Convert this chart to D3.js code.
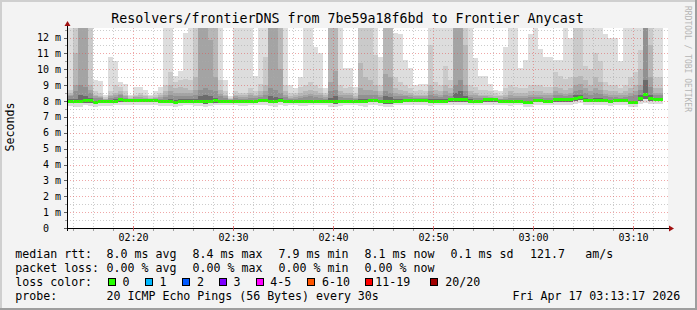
<!DOCTYPE html>
<html><head><meta charset="utf-8">
<script src="https://cdn.jsdelivr.net/npm/d3@7"></script>
<style>
body{margin:0;background:#f3f3f3}
svg{display:block}
text{font-family:"DejaVu Sans Mono",monospace;fill:#000}
</style>
</head><body>
<svg id="chart" width="697" height="310"></svg>
<script>
// ---------------- DATA ----------------
const title = "Resolvers/frontierDNS from 7be59a18f6bd to Frontier Anycast";
const firstColumn = "2026-04-17 02:13:00";   // 30 s steps
const stepSeconds = 30;
const axisStart = "2026-04-17 02:13:24";
const axisEnd = "2026-04-17 03:13:24";

// upper smoke (sorted pings, ms), 13 = off the top of the chart
const p20 = [13,13,13,13,13,13,9.3,9.25,8.4,10.75,10.5,
 9.2,9.1,8.4,8.9,8.9,8.7,8.4,8.6,8.9,13,
 13,9.55,9.86,12.3,13,13,13,13,13,13,
 13,9.3,8.3,13,13,13,13,9.6,13,13,
 13,13,13,13,9.0,8.8,9.5,13,13,11.4,
 11.0,8.8,13,13,13,10.1,10.1,8.9,13,13,
 13,13,10.8,13,13,12.3,12.2,10.6,10.1,9.0,
 9.1,9.1,13,13,13,13,13,13,13,13,
 13,10.7,9.6,9.6,9.1,8.7,8.6,11.4,13,13,
 10.1,10.6,12.2,13,11.3,10.8,10.8,10.6,10.6,13,
 12.0,13,13,13,13,13,13,12.2,12.0,12.0,
 10.5,13,13,13,13,13,13,13,13];
const p19 = [8.7,8.7,13,13,13,13,8.6,8.5,8.25,8.6,9.0,
 8.9,8.6,8.3,8.4,8.5,8.4,8.3,8.35,8.5,9.0,
 9.8,9.2,9.3,9.4,9.3,13,13,13,13,13,
 9.3,8.6,8.2,8.6,8.5,8.5,8.8,8.6,9.1,10.8,
 13,13,13,9.0,8.5,8.5,8.9,9.0,9.2,9.0,
 8.8,8.5,13,13,9.0,8.8,8.9,8.5,13,13,
 13,10.9,9.0,13,13,9.5,9.2,9.0,8.8,8.6,
 8.7,8.6,11.5,9.2,9.0,10.2,9.3,13,13,13,
 9.0,8.9,8.7,8.7,8.6,8.5,8.4,8.8,9.0,8.9,
 8.8,8.8,9.0,9.0,9.0,8.9,8.9,9.8,9.6,9.4,
 9.5,13,13,10.2,10.0,11.0,10.5,9.2,9.0,9.0,
 8.8,9.0,9.5,9.8,11.2,13,13,9.5,9.5];
const p18 = [8.5,8.5,11.0,13,13,9.0,8.4,8.3,8.15,8.4,8.5,
 8.6,8.4,8.2,8.3,8.35,8.3,8.2,8.25,8.35,8.6,
 9.0,8.8,8.9,8.8,8.7,9.5,13,13,13,13,
 8.7,8.4,8.15,8.4,8.35,8.35,8.5,8.4,8.6,9.0,
 13,13,13,8.6,8.3,8.35,8.5,8.6,8.7,8.6,
 8.5,8.35,13,13,8.6,8.5,8.5,8.3,10.4,9.5,
 9.3,9.0,8.6,13,13,8.8,8.7,8.6,8.5,8.4,
 8.4,8.4,9.0,8.7,8.6,9.0,8.8,13,13,11.5,
 8.6,8.5,8.4,8.4,8.35,8.3,8.3,8.4,8.6,8.5,
 8.5,8.5,8.6,8.6,8.6,8.5,8.5,8.9,8.8,8.7,
 8.8,9.5,9.6,9.3,9.0,9.5,9.2,8.7,8.6,8.6,
 8.5,8.6,8.8,9.0,10.0,13,11.5,8.8,8.8];
const p17 = [8.4,8.4,9.0,13,13,8.7,8.3,8.25,8.1,8.3,8.35,
 8.45,8.3,8.15,8.25,8.25,8.2,8.15,8.2,8.25,8.4,
 8.6,8.5,8.5,8.5,8.5,8.7,13,13,11.85,9.5,
 8.45,8.3,8.1,8.3,8.25,8.25,8.35,8.3,8.4,8.6,
 13,13,10.0,8.4,8.2,8.25,8.3,8.4,8.45,8.4,
 8.35,8.25,9.2,9.9,8.4,8.35,8.35,8.2,8.8,8.7,
 8.7,8.6,8.4,9.7,9.5,8.5,8.45,8.4,8.35,8.3,
 8.3,8.3,8.6,8.45,8.4,8.6,8.5,13,13,9.0,
 8.4,8.35,8.3,8.3,8.25,8.2,8.15,8.25,8.35,8.3,
 8.3,8.3,8.4,8.4,8.4,8.35,8.35,8.6,8.5,8.45,
 8.5,9.0,9.1,8.8,8.6,8.8,8.7,8.45,8.4,8.4,
 8.35,8.4,8.5,8.6,9.0,13,9.5,8.5,8.5];
const p16 = [8.3,8.3,8.6,9.0,8.9,8.5,8.2,8.2,8.05,8.2,8.25,
 8.35,8.2,8.1,8.15,8.15,8.15,8.1,8.12,8.15,8.25,
 8.35,8.3,8.3,8.3,8.3,8.4,8.7,8.8,8.7,8.6,
 8.3,8.2,8.05,8.2,8.15,8.15,8.2,8.2,8.25,8.35,
 8.8,8.7,8.5,8.25,8.12,8.15,8.2,8.25,8.3,8.25,
 8.2,8.15,8.6,8.7,8.25,8.2,8.2,8.1,8.4,8.35,
 8.4,8.35,8.25,8.6,8.5,8.3,8.3,8.3,8.25,8.2,
 8.2,8.2,8.35,8.3,8.25,8.35,8.3,9.0,9.3,8.6,
 8.25,8.2,8.2,8.2,8.15,8.12,8.1,8.15,8.2,8.2,
 8.2,8.2,8.25,8.25,8.25,8.2,8.2,8.4,8.35,8.3,
 8.35,8.6,8.7,8.5,8.4,8.5,8.45,8.3,8.25,8.25,
 8.2,8.25,8.3,8.35,8.7,13,8.9,8.35,8.35];
const p12 = [8.1,8.1,8.15,8.35,8.3,8.2,8.0,8.05,8.05,8.05,8.1,
 8.2,8.12,8.1,8.1,8.1,8.1,8.08,8.08,8.05,8.05,
 8.1,8.05,8.1,8.1,8.1,8.15,8.3,8.35,8.3,8.2,
 8.05,8.05,8.02,8.05,8.05,8.05,8.08,8.05,8.1,8.15,
 8.3,8.25,8.2,8.05,8.02,8.05,8.05,8.05,8.08,8.05,
 8.05,8.02,8.2,8.3,8.05,8.05,8.05,8.02,8.15,8.1,
 8.15,8.15,8.05,8.3,8.25,8.1,8.1,8.12,8.12,8.12,
 8.12,8.12,8.15,8.1,8.1,8.15,8.2,8.5,8.6,8.3,
 8.1,8.08,8.08,8.15,8.15,8.15,8.05,8.05,8.05,8.05,
 8.05,8.02,8.02,8.1,8.1,8.05,8.05,8.2,8.15,8.15,
 8.15,8.35,8.4,8.2,8.15,8.2,8.2,8.15,8.05,8.1,
 8.1,8.1,8.0,8.0,8.35,9.3,8.4,8.2,8.2];
// median rtt (ms)
const median = [7.97,7.97,7.97,7.97,8.06,8.06,7.91,7.95,7.97,7.97,7.97,
 8.1,8.05,8.04,8.04,8.04,8.04,8.04,8.04,7.97,7.97,
 7.97,7.93,8.0,8.0,8.0,8.0,8.0,8.0,8.0,8.04,
 7.97,7.97,7.97,7.97,7.97,7.97,7.97,7.97,8.04,8.04,
 7.97,7.97,8.06,7.97,7.97,7.97,7.97,7.97,7.97,7.97,
 7.97,7.97,7.97,7.97,7.97,7.97,7.97,7.97,7.97,7.97,
 8.04,8.04,7.95,7.95,7.95,8.0,8.0,8.05,8.05,8.05,
 8.05,8.05,8.0,8.0,8.0,8.0,8.1,8.1,8.1,8.1,
 8.0,8.0,8.0,8.07,8.07,8.07,7.97,7.97,7.97,7.97,
 7.97,7.93,7.93,8.04,8.04,7.97,7.97,8.07,8.07,8.07,
 8.07,8.15,8.2,8.06,8.06,8.06,8.06,8.06,7.97,8.04,
 8.04,8.04,7.9,7.9,8.15,8.4,8.15,8.1,8.1];
// lower smoke
const lo2 = [7.88,7.88,7.85,7.85,7.9,7.9,7.82,7.85,7.88,7.88,7.88,
 7.95,7.92,7.92,7.92,7.92,7.92,7.92,7.92,7.88,7.85,
 7.85,7.82,7.88,7.88,7.88,7.85,7.85,7.82,7.85,7.9,
 7.88,7.88,7.88,7.88,7.88,7.88,7.88,7.88,7.92,7.92,
 7.85,7.85,7.92,7.85,7.88,7.88,7.88,7.88,7.88,7.88,
 7.88,7.88,7.85,7.82,7.88,7.88,7.88,7.88,7.85,7.85,
 7.92,7.92,7.85,7.8,7.82,7.9,7.9,7.92,7.92,7.92,
 7.92,7.92,7.88,7.88,7.88,7.88,7.95,7.95,7.95,7.95,
 7.88,7.88,7.88,7.95,7.95,7.95,7.88,7.88,7.88,7.88,
 7.88,7.82,7.82,7.92,7.92,7.88,7.88,7.95,7.95,7.95,
 7.95,8.0,8.05,7.95,7.95,7.95,7.95,7.95,7.88,7.92,
 7.92,7.92,7.8,7.8,8.0,8.1,8.0,7.98,7.98];
const lo1 = [7.7,7.7,7.65,7.62,7.75,7.7,7.6,7.68,7.7,7.7,7.72,
 7.78,7.75,7.75,7.75,7.78,7.78,7.75,7.75,7.7,7.68,
 7.68,7.65,7.7,7.72,7.72,7.7,7.68,7.62,7.68,7.72,
 7.72,7.72,7.72,7.72,7.7,7.7,7.72,7.72,7.75,7.75,
 7.68,7.65,7.75,7.7,7.72,7.72,7.7,7.7,7.72,7.72,
 7.72,7.72,7.62,7.6,7.7,7.72,7.72,7.72,7.68,7.65,
 7.75,7.75,7.68,7.6,7.62,7.72,7.72,7.75,7.75,7.75,
 7.75,7.75,7.7,7.72,7.72,7.72,7.78,7.75,7.75,7.78,
 7.72,7.72,7.72,7.78,7.78,7.78,7.72,7.72,7.7,7.72,
 7.72,7.65,7.65,7.75,7.75,7.72,7.72,7.78,7.78,7.78,
 7.78,7.8,7.85,7.78,7.78,7.78,7.78,7.78,7.7,7.75,
 7.75,7.75,7.62,7.62,7.8,7.9,7.82,7.8,7.8];

const yTickValues = [0,1,2,3,4,5,6,7,8,9,10,11,12];
const yTickLabels = ["0  ","1 m","2 m","3 m","4 m","5 m","6 m","7 m","8 m","9 m","10 m","11 m","12 m"];
const xTickTimes = ["02:20","02:30","02:40","02:50","03:00","03:10"];

const legendRows = [
  {label:"median rtt:", items:["8.0 ms avg","8.4 ms max","7.9 ms min","8.1 ms now","0.1 ms sd","121.7","am/s"]},
  {label:"packet loss:", items:["0.00 % avg","0.00 % max","0.00 % min","0.00 % now"]},
  {label:"probe:", items:["20 ICMP Echo Pings (56 Bytes) every 30s","Fri Apr 17 03:13:17 2026"]}
];
const lossLabels = ["0","1","2","3","4-5","6-10","11-19","20/20"];
const lossColors = ["#26ff00","#00b8ff","#0059ff","#7e00ff","#ff00ff","#ff5500","#ff0000","#a10000"];
const smokeColors = ["#dddddd","#cacaca","#b7b7b7","#a4a4a4","#919191","#6b6b6b"];

// ---------------- LAYOUT ----------------
const W = 697, H = 310;
const plot = {left:67, right:667, top:28, bottom:228};
const svg = d3.select("#chart");
const parse = d3.timeParse("%Y-%m-%d %H:%M:%S");
const t0 = parse(firstColumn);
const times = median.map((_, i) => new Date(t0.getTime() + i*stepSeconds*1000));

const x = d3.scaleTime().domain([parse(axisStart), parse(axisEnd)]).range([plot.left, plot.right]);
const y = d3.scaleLinear().domain([0, 12.6]).range([plot.bottom, plot.top]);

// background + frame
svg.append("rect").attr("width",W).attr("height",H).attr("fill","#f3f3f3");
svg.append("rect").attr("x",0).attr("y",0).attr("width",W).attr("height",2).attr("fill","#cfcfcf");
svg.append("rect").attr("x",0).attr("y",0).attr("width",2).attr("height",H).attr("fill","#cfcfcf");
svg.append("rect").attr("x",0).attr("y",H-2).attr("width",W).attr("height",2).attr("fill","#9e9e9e");
svg.append("rect").attr("x",W-2).attr("y",0).attr("width",2).attr("height",H).attr("fill","#9e9e9e");

// canvas
svg.append("rect").attr("x",plot.left).attr("y",plot.top)
  .attr("width",plot.right-plot.left+1).attr("height",plot.bottom-plot.top).attr("fill","#ffffff");

svg.append("clipPath").attr("id","clip").append("rect")
  .attr("x",plot.left+1).attr("y",plot.top).attr("width",plot.right-plot.left).attr("height",plot.bottom-plot.top);

const g = svg.append("g").attr("clip-path","url(#clip)");
const layers = [
  {top:p20, bot:lo1}, {top:p19, bot:lo2}, {top:p18, bot:lo2},
  {top:p17, bot:lo2}, {top:p16, bot:lo2}, {top:p12, bot:lo2}
];
const colX = i => x(times[i]);
const colW = i => x(new Date(times[i].getTime()+stepSeconds*1000)) - x(times[i]);
layers.forEach((L, li) => {
  g.append("g").selectAll("rect").data(times).join("rect")
    .attr("x",(d,i)=>colX(i)).attr("width",(d,i)=>colW(i))
    .attr("y",(d,i)=>y(L.top[i])).attr("height",(d,i)=>Math.max(0,y(L.bot[i])-y(L.top[i])))
    .attr("fill",smokeColors[li]).attr("shape-rendering","crispEdges");
});

// grid
const grid = svg.append("g");
const minorY = d3.range(0, 12.51, 0.5).filter(v => v % 1 !== 0);
minorY.forEach(v => {
  const yy = Math.round(y(v)) + 0.5;
  grid.append("line").attr("x1",plot.left).attr("x2",plot.right+1).attr("y1",yy).attr("y2",yy)
    .attr("stroke","rgba(170,170,170,0.6)").attr("stroke-dasharray","1 2");
});
const minorX = d3.timeMinute.every(2).range(parse(axisStart), parse(axisEnd));
minorX.forEach(t => {
  if (t.getMinutes() % 10 === 0) return;
  const xx = Math.round(x(t)) + 0.5;
  grid.append("line").attr("x1",xx).attr("x2",xx).attr("y1",plot.top).attr("y2",plot.bottom)
    .attr("stroke","rgba(170,170,170,0.6)").attr("stroke-dasharray","1 2");
});
yTickValues.filter(v=>v>0).forEach(v => {
  const yy = Math.round(y(v)) + 0.5;
  grid.append("line").attr("x1",plot.left).attr("x2",plot.right+1).attr("y1",yy).attr("y2",yy)
    .attr("stroke","rgba(224,80,80,0.5)").attr("stroke-dasharray","1 2");
});
const majorX = xTickTimes.map(s => parse("2026-04-17 " + s + ":00"));
majorX.forEach(t => {
  const xx = Math.round(x(t)) + 0.5;
  grid.append("line").attr("x1",xx).attr("x2",xx).attr("y1",plot.top).attr("y2",plot.bottom)
    .attr("stroke","rgba(224,80,80,0.5)").attr("stroke-dasharray","1 2");
});

// median line, coloured by loss (0 loss everywhere)
g.append("g").selectAll("rect").data(times).join("rect")
  .attr("x",(d,i)=>colX(i)).attr("width",(d,i)=>colW(i))
  .attr("y",(d,i)=>y(median[i])-1.5).attr("height",3)
  .attr("fill",lossColors[0]).attr("shape-rendering","crispEdges");

// axes
const axisY = plot.bottom + 0.5;
svg.append("line").attr("x1",plot.left-3).attr("x2",plot.right+3).attr("y1",axisY).attr("y2",axisY).attr("stroke","#000");
svg.append("line").attr("x1",plot.left+0.5).attr("x2",plot.left+0.5).attr("y1",plot.bottom+3).attr("y2",plot.top-3).attr("stroke","#000");
svg.append("path").attr("d",`M${plot.right+2},${axisY-3} L${plot.right+7},${axisY} L${plot.right+2},${axisY+3} Z`).attr("fill","#a01010");
svg.append("path").attr("d",`M${plot.left+0.5-3},${plot.top-2} L${plot.left+0.5},${plot.top-7} L${plot.left+0.5+3},${plot.top-2} Z`).attr("fill","#a01010");

// y ticks & labels
d3.range(0, 12.51, 0.5).forEach(v => {
  const yy = Math.round(y(v)) + 0.5;
  svg.append("line").attr("x1",plot.left-(v%1===0?3:2)).attr("x2",plot.left).attr("y1",yy).attr("y2",yy)
    .attr("stroke", v%1===0 ? "#606060" : "#a0a0a0");
});
svg.append("g").selectAll("text").data(yTickValues).join("text")
  .attr("x",61).attr("y",v=>y(v)+3.6).attr("text-anchor","end")
  .attr("font-size","10px").attr("xml:space","preserve").style("white-space","pre")
  .text((v,i)=>yTickLabels[i]);

// x ticks & labels
minorX.forEach(t => {
  const xx = Math.round(x(t)) + 0.5;
  svg.append("line").attr("x1",xx).attr("x2",xx).attr("y1",plot.bottom+1).attr("y2",plot.bottom+3).attr("stroke","#a0a0a0");
});
majorX.forEach(t => {
  const xx = Math.round(x(t)) + 0.5;
  svg.append("line").attr("x1",xx).attr("x2",xx).attr("y1",plot.bottom-2).attr("y2",plot.bottom+3).attr("stroke","rgba(224,80,80,0.7)");
});
svg.append("g").selectAll("text").data(majorX).join("text")
  .attr("x",t=>x(t)+0.5).attr("y",241).attr("text-anchor","middle").attr("font-size","10px")
  .text((t,i)=>xTickTimes[i]);

// title
svg.append("text").attr("x",347.5).attr("y",23).attr("text-anchor","middle")
  .attr("font-size","13.3px").text(title);

// axis title
svg.append("text").attr("transform","translate(14,127) rotate(-90)").attr("text-anchor","middle")
  .attr("font-size","11.6px").text("Seconds");

// watermark
svg.append("text").attr("transform","translate(684.5,6) rotate(90)")
  .attr("font-size","8px").style("fill","#b5b5b5").text("RRDTOOL / TOBI OETIKER");

// legend
const fs = "11.6px";
const itemX = [
  [106.6,192.6,278.6,364.6,450.6,530,585.3],
  [106.6,192.6,278.6,364.6],
  [106.6,512.6]
];
const rowY = [258, 272, 300];
legendRows.forEach((r, ri) => {
  svg.append("text").attr("x",15.3).attr("y",rowY[ri]).attr("font-size",fs).text(r.label);
  r.items.forEach((it, k) => {
    svg.append("text").attr("x",itemX[ri][k]).attr("y",rowY[ri]).attr("font-size",fs).text(it);
  });
});
svg.append("text").attr("x",15.3).attr("y",286).attr("font-size",fs).text("loss color:");
const boxX = [108.5,145.5,182.5,219.5,256.5,307.5,365.5,430.5];
const labX = [122.6,159.6,197,233.6,270.3,322,375.3,445.3];
lossLabels.forEach((l, k) => {
  svg.append("rect").attr("x",boxX[k]).attr("y",278.5).attr("width",7).attr("height",7)
    .attr("fill",lossColors[k]).attr("stroke","#000").attr("stroke-width",1);
  svg.append("text").attr("x",labX[k]).attr("y",286).attr("font-size",fs).text(l);
});
</script>
</body></html>
